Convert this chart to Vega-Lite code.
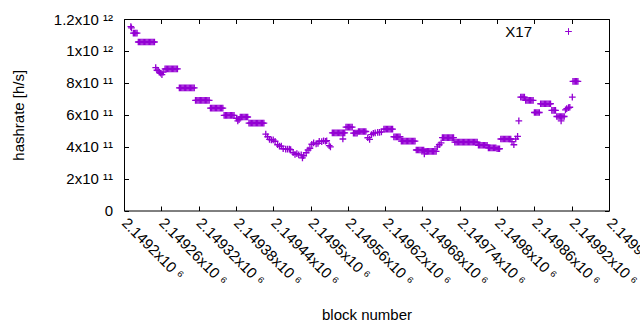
{
  "$schema": "https://vega.github.io/schema/vega-lite/v6.json",
  "autosize": {"type": "none"},
  "width": 485,
  "height": 191.5,
  "padding": {"left": 124, "top": 19, "right": 31, "bottom": 119.5},
  "background": "white",
  "config": {
    "font": "Liberation Sans",
    "view": {"stroke": "black", "strokeWidth": 1},
    "axis": {"grid": false, "labelFontSize": 15, "titleFontSize": 15, "titleFontWeight": "normal", "labelColor": "black", "titleColor": "black", "domain": false, "tickColor": "black", "tickSize": -4.5, "tickWidth": 1}
  },
  "data": {"values": [
    {"b":2149211,"h":11.52e11},{"b":2149212,"h":11.45e11},
    {"b":2149215,"h":11.12e11},{"b":2149217,"h":11.12e11},{"b":2149219,"h":11.12e11},{"b":2149221,"h":11.12e11},
    {"b":2149223,"h":10.56e11},{"b":2149225,"h":10.56e11},{"b":2149227,"h":10.56e11},{"b":2149229,"h":10.56e11},{"b":2149231,"h":10.56e11},{"b":2149233,"h":10.56e11},{"b":2149235,"h":10.56e11},{"b":2149237,"h":10.56e11},{"b":2149239,"h":10.56e11},{"b":2149241,"h":10.56e11},{"b":2149243,"h":10.56e11},{"b":2149245,"h":10.56e11},{"b":2149247,"h":10.56e11},{"b":2149249,"h":10.56e11},
    {"b":2149251,"h":8.95e11},{"b":2149253,"h":8.79e11},{"b":2149255,"h":8.76e11},{"b":2149257,"h":8.67e11},{"b":2149259,"h":8.60e11},{"b":2149261,"h":8.51e11},{"b":2149263,"h":8.67e11},
    {"b":2149266,"h":8.88e11},{"b":2149268,"h":8.88e11},{"b":2149270,"h":8.88e11},{"b":2149272,"h":8.88e11},{"b":2149274,"h":8.88e11},{"b":2149276,"h":8.88e11},{"b":2149278,"h":8.88e11},{"b":2149280,"h":8.88e11},{"b":2149282,"h":8.88e11},{"b":2149284,"h":8.88e11},{"b":2149286,"h":8.88e11},
    {"b":2149289,"h":7.69e11},{"b":2149291,"h":7.69e11},{"b":2149293,"h":7.69e11},{"b":2149295,"h":7.69e11},{"b":2149297,"h":7.69e11},{"b":2149299,"h":7.69e11},{"b":2149301,"h":7.69e11},{"b":2149303,"h":7.69e11},{"b":2149305,"h":7.69e11},{"b":2149307,"h":7.69e11},{"b":2149309,"h":7.69e11},{"b":2149311,"h":7.69e11},{"b":2149313,"h":7.69e11},
    {"b":2149315,"h":6.90e11},{"b":2149317,"h":6.90e11},{"b":2149319,"h":6.90e11},{"b":2149321,"h":6.90e11},{"b":2149323,"h":6.90e11},{"b":2149325,"h":6.90e11},{"b":2149327,"h":6.90e11},{"b":2149329,"h":6.90e11},{"b":2149331,"h":6.90e11},{"b":2149333,"h":6.90e11},{"b":2149335,"h":6.90e11},{"b":2149337,"h":6.90e11},
    {"b":2149339,"h":6.42e11},{"b":2149341,"h":6.42e11},{"b":2149343,"h":6.42e11},{"b":2149345,"h":6.42e11},{"b":2149347,"h":6.42e11},{"b":2149349,"h":6.42e11},{"b":2149351,"h":6.42e11},{"b":2149353,"h":6.42e11},{"b":2149355,"h":6.42e11},{"b":2149357,"h":6.42e11},{"b":2149359,"h":6.42e11},
    {"b":2149361,"h":5.96e11},{"b":2149363,"h":5.96e11},{"b":2149365,"h":5.96e11},{"b":2149367,"h":5.96e11},{"b":2149369,"h":5.96e11},{"b":2149371,"h":5.96e11},{"b":2149373,"h":5.96e11},{"b":2149375,"h":5.96e11},{"b":2149377,"h":5.96e11},
    {"b":2149381,"h":5.78e11},{"b":2149383,"h":5.62e11},{"b":2149385,"h":5.70e11},
    {"b":2149387,"h":5.86e11},{"b":2149389,"h":5.86e11},{"b":2149391,"h":5.86e11},{"b":2149393,"h":5.86e11},{"b":2149395,"h":5.86e11},{"b":2149397,"h":5.86e11},{"b":2149399,"h":5.86e11},
    {"b":2149401,"h":5.48e11},{"b":2149403,"h":5.48e11},{"b":2149405,"h":5.48e11},{"b":2149407,"h":5.48e11},{"b":2149409,"h":5.48e11},{"b":2149411,"h":5.48e11},{"b":2149413,"h":5.48e11},{"b":2149415,"h":5.48e11},{"b":2149417,"h":5.48e11},{"b":2149419,"h":5.48e11},{"b":2149421,"h":5.48e11},{"b":2149423,"h":5.48e11},{"b":2149425,"h":5.48e11},
    {"b":2149428,"h":4.78e11},{"b":2149431,"h":4.62e11},{"b":2149434,"h":4.46e11},{"b":2149437,"h":4.43e11},{"b":2149440,"h":4.43e11},{"b":2149443,"h":4.34e11},{"b":2149447,"h":4.12e11},{"b":2149450,"h":4.03e11},{"b":2149453,"h":4.03e11},{"b":2149456,"h":3.87e11},{"b":2149460,"h":3.84e11},{"b":2149463,"h":3.84e11},{"b":2149466,"h":3.84e11},{"b":2149468,"h":3.81e11},{"b":2149472,"h":3.62e11},{"b":2149475,"h":3.52e11},{"b":2149478,"h":3.56e11},{"b":2149481,"h":3.49e11},{"b":2149485,"h":3.49e11},{"b":2149487,"h":3.30e11},{"b":2149489,"h":3.43e11},{"b":2149493,"h":3.62e11},{"b":2149496,"h":3.79e11},{"b":2149499,"h":3.90e11},{"b":2149502,"h":4.15e11},{"b":2149505,"h":4.24e11},{"b":2149509,"h":4.18e11},{"b":2149512,"h":4.21e11},{"b":2149514,"h":4.34e11},{"b":2149518,"h":4.31e11},{"b":2149521,"h":4.37e11},{"b":2149524,"h":4.34e11},{"b":2149526,"h":4.37e11},{"b":2149530,"h":4.06e11},{"b":2149532,"h":3.99e11},
    {"b":2149535,"h":4.87e11},{"b":2149537,"h":4.87e11},{"b":2149539,"h":4.87e11},{"b":2149541,"h":4.87e11},{"b":2149543,"h":4.87e11},{"b":2149545,"h":4.87e11},{"b":2149547,"h":4.87e11},{"b":2149549,"h":4.87e11},{"b":2149551,"h":4.87e11},{"b":2149553,"h":4.87e11},{"b":2149555,"h":4.87e11},{"b":2149552,"h":4.48e11},
    {"b":2149557,"h":5.23e11},{"b":2149559,"h":5.23e11},{"b":2149561,"h":5.23e11},{"b":2149563,"h":5.23e11},{"b":2149565,"h":5.23e11},{"b":2149567,"h":5.23e11},
    {"b":2149569,"h":4.85e11},{"b":2149571,"h":4.85e11},{"b":2149573,"h":4.85e11},{"b":2149575,"h":4.85e11},
    {"b":2149577,"h":4.95e11},{"b":2149579,"h":4.95e11},{"b":2149581,"h":4.95e11},{"b":2149583,"h":4.95e11},{"b":2149585,"h":4.95e11},{"b":2149587,"h":4.95e11},{"b":2149589,"h":4.95e11},
    {"b":2149592,"h":4.56e11},{"b":2149595,"h":4.46e11},{"b":2149598,"h":4.75e11},{"b":2149601,"h":4.84e11},{"b":2149604,"h":4.87e11},{"b":2149608,"h":4.90e11},{"b":2149611,"h":4.90e11},{"b":2149614,"h":4.93e11},
    {"b":2149618,"h":5.10e11},{"b":2149620,"h":5.10e11},{"b":2149622,"h":5.10e11},{"b":2149624,"h":5.10e11},{"b":2149626,"h":5.10e11},{"b":2149628,"h":5.10e11},{"b":2149630,"h":5.10e11},{"b":2149632,"h":5.10e11},
    {"b":2149634,"h":4.62e11},{"b":2149636,"h":4.62e11},{"b":2149638,"h":4.62e11},{"b":2149640,"h":4.62e11},{"b":2149642,"h":4.62e11},{"b":2149644,"h":4.62e11},
    {"b":2149646,"h":4.35e11},{"b":2149648,"h":4.35e11},{"b":2149650,"h":4.35e11},{"b":2149652,"h":4.35e11},{"b":2149654,"h":4.35e11},{"b":2149656,"h":4.35e11},{"b":2149658,"h":4.35e11},{"b":2149660,"h":4.35e11},{"b":2149662,"h":4.35e11},{"b":2149664,"h":4.35e11},{"b":2149666,"h":4.35e11},{"b":2149668,"h":4.35e11},
    {"b":2149670,"h":3.79e11},{"b":2149672,"h":3.79e11},{"b":2149674,"h":3.79e11},{"b":2149676,"h":3.79e11},{"b":2149678,"h":3.79e11},{"b":2149680,"h":3.79e11},{"b":2149682,"h":3.79e11},{"b":2149683,"h":3.55e11},
    {"b":2149684,"h":3.71e11},{"b":2149686,"h":3.71e11},{"b":2149688,"h":3.71e11},{"b":2149690,"h":3.71e11},{"b":2149692,"h":3.71e11},{"b":2149694,"h":3.71e11},{"b":2149696,"h":3.71e11},{"b":2149698,"h":3.71e11},{"b":2149700,"h":3.71e11},{"b":2149702,"h":3.71e11},
    {"b":2149704,"h":3.99e11},{"b":2149707,"h":4.12e11},{"b":2149710,"h":4.24e11},
    {"b":2149712,"h":4.57e11},{"b":2149714,"h":4.57e11},{"b":2149716,"h":4.57e11},{"b":2149718,"h":4.57e11},{"b":2149720,"h":4.57e11},{"b":2149722,"h":4.57e11},{"b":2149724,"h":4.57e11},{"b":2149726,"h":4.57e11},{"b":2149728,"h":4.57e11},{"b":2149730,"h":4.57e11},
    {"b":2149732,"h":4.29e11},{"b":2149734,"h":4.29e11},{"b":2149736,"h":4.29e11},{"b":2149738,"h":4.29e11},{"b":2149740,"h":4.29e11},{"b":2149742,"h":4.29e11},{"b":2149744,"h":4.29e11},{"b":2149746,"h":4.29e11},{"b":2149748,"h":4.29e11},{"b":2149750,"h":4.29e11},{"b":2149752,"h":4.29e11},{"b":2149754,"h":4.29e11},{"b":2149756,"h":4.29e11},{"b":2149758,"h":4.29e11},{"b":2149760,"h":4.29e11},{"b":2149762,"h":4.29e11},{"b":2149764,"h":4.29e11},{"b":2149766,"h":4.29e11},{"b":2149768,"h":4.29e11},
    {"b":2149770,"h":4.09e11},{"b":2149772,"h":4.09e11},{"b":2149774,"h":4.09e11},{"b":2149776,"h":4.09e11},{"b":2149778,"h":4.09e11},{"b":2149780,"h":4.09e11},{"b":2149782,"h":4.09e11},{"b":2149784,"h":4.09e11},
    {"b":2149786,"h":3.93e11},{"b":2149788,"h":3.93e11},{"b":2149790,"h":3.93e11},{"b":2149792,"h":3.93e11},{"b":2149794,"h":3.93e11},{"b":2149796,"h":3.93e11},{"b":2149798,"h":3.93e11},
    {"b":2149800,"h":3.87e11},{"b":2149802,"h":3.87e11},{"b":2149804,"h":3.87e11},
    {"b":2149806,"h":4.48e11},{"b":2149808,"h":4.48e11},{"b":2149810,"h":4.48e11},{"b":2149812,"h":4.48e11},{"b":2149814,"h":4.48e11},{"b":2149816,"h":4.48e11},{"b":2149818,"h":4.48e11},{"b":2149820,"h":4.48e11},{"b":2149822,"h":4.48e11},
    {"b":2149824,"h":4.31e11},{"b":2149827,"h":4.12e11},{"b":2149830,"h":4.48e11},{"b":2149833,"h":4.65e11},{"b":2149835,"h":5.62e11},
    {"b":2149838,"h":7.11e11},{"b":2149840,"h":7.11e11},{"b":2149842,"h":7.11e11},{"b":2149844,"h":7.11e11},
    {"b":2149846,"h":6.90e11},{"b":2149848,"h":6.90e11},{"b":2149850,"h":6.90e11},{"b":2149852,"h":6.90e11},{"b":2149854,"h":6.90e11},{"b":2149856,"h":6.90e11},{"b":2149858,"h":6.90e11},
    {"b":2149860,"h":6.14e11},{"b":2149862,"h":6.14e11},{"b":2149864,"h":6.14e11},{"b":2149866,"h":6.14e11},{"b":2149868,"h":6.14e11},
    {"b":2149870,"h":6.69e11},{"b":2149872,"h":6.69e11},{"b":2149874,"h":6.69e11},{"b":2149876,"h":6.69e11},{"b":2149878,"h":6.69e11},{"b":2149880,"h":6.69e11},{"b":2149882,"h":6.69e11},{"b":2149884,"h":6.69e11},{"b":2149886,"h":6.69e11},
    {"b":2149888,"h":6.27e11},{"b":2149890,"h":6.27e11},{"b":2149892,"h":6.27e11},{"b":2149894,"h":6.27e11},
    {"b":2149896,"h":5.89e11},{"b":2149898,"h":5.89e11},{"b":2149900,"h":5.89e11},{"b":2149902,"h":5.89e11},{"b":2149904,"h":5.89e11},{"b":2149906,"h":5.89e11},{"b":2149908,"h":5.89e11},{"b":2149903,"h":5.62e11},
    {"b":2149910,"h":6.31e11},{"b":2149912,"h":6.38e11},{"b":2149915,"h":6.44e11},{"b":2149917,"h":6.47e11},
    {"b":2149921,"h":7.11e11},
    {"b":2149922,"h":8.09e11},{"b":2149924,"h":8.09e11},{"b":2149926,"h":8.09e11},{"b":2149928,"h":8.09e11},{"b":2149930,"h":8.09e11}
  ]},
  "layer": [
    {
      "mark": {"type": "point", "shape": "M-1,0H1M0,-1V1", "filled": false, "strokeWidth": 1.3, "size": 45, "opacity": 1},
      "encoding": {
        "x": {"field": "b", "type": "quantitative", "scale": {"domain": [2149200, 2149980], "nice": false, "zero": false},
          "axis": {"orient": "bottom", "title": "block number", "values": [2149200,2149260,2149320,2149380,2149440,2149500,2149560,2149620,2149680,2149740,2149800,2149860,2149920,2149980],
            "labelExpr": "format(datum.value/1e6, '~g') + 'x10 ⁶'", "labelAngle": 45, "labelAlign": "left", "labelBaseline": "middle", "labelPadding": 14, "labelFlush": false, "labelOverlap": false, "titlePadding": 19}},
        "y": {"field": "h", "type": "quantitative", "scale": {"domain": [0, 1.2e12], "nice": false},
          "axis": {"orient": "left", "title": "hashrate [h/s]", "values": [0, 2e11, 4e11, 6e11, 8e11, 1e12, 1.2e12],
            "labelExpr": "datum.value == 0 ? '0' : datum.value >= 1e12 ? format(datum.value/1e12, '~g') + 'x10  ¹²' : format(datum.value/1e11, '~g') + 'x10  ¹¹'", "labelPadding": 16, "labelFlush": false, "labelOverlap": false, "titlePadding": 23}},
        "color": {"datum": "X17", "type": "nominal", "scale": {"range": ["#9400d3"]},
          "legend": {"orient": "none", "legendX": 437, "legendY": 5, "title": null, "padding": 0, "symbolType": "M-1,0H1M0,-1V1", "symbolSize": 45, "symbolStrokeWidth": 1, "symbolFillColor": "transparent", "labelFontSize": 15, "labelColor": "black", "labelAlign": "right", "labelOffset": -44}}
      }
    },
    {
      "mark": {"type": "point", "opacity": 0},
      "encoding": {
        "x": {"field": "b", "type": "quantitative", "axis": {"orient": "top", "title": null, "labels": false, "values": [2149200,2149260,2149320,2149380,2149440,2149500,2149560,2149620,2149680,2149740,2149800,2149860,2149920,2149980]}},
        "y": {"field": "h", "type": "quantitative", "axis": {"orient": "right", "title": null, "labels": false, "values": [0, 2e11, 4e11, 6e11, 8e11, 1e12, 1.2e12]}}
      }
    }
  ],
  "resolve": {"axis": {"x": "independent", "y": "independent"}}
}
